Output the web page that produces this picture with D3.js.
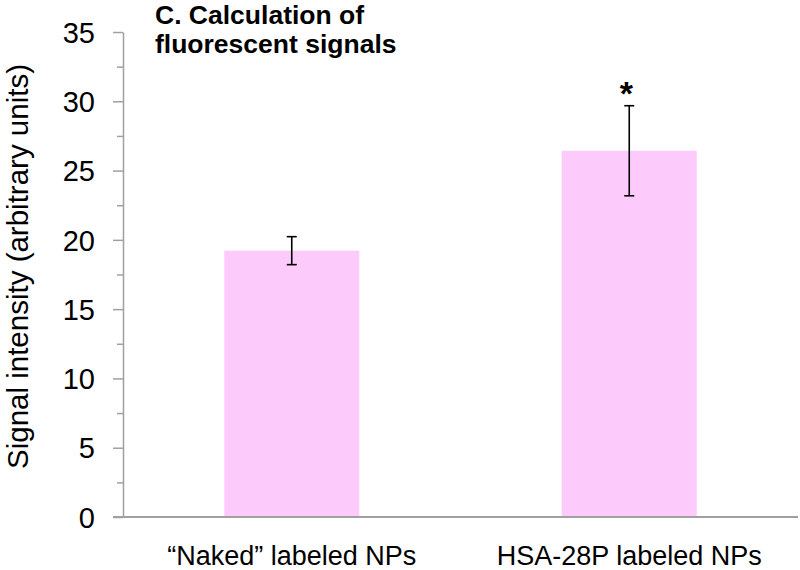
<!DOCTYPE html>
<html>
<head>
<meta charset="utf-8">
<script src="https://cdn.jsdelivr.net/npm/d3@7"></script>
<style>
  html, body { margin: 0; padding: 0; background: #fff; }
  svg { display: block; font-family: "Liberation Sans", Arial, sans-serif; }
</style>
</head>
<body>
<svg id="chart" width="800" height="570"></svg>
<script>
const categories = ["\u201CNaked\u201D labeled NPs", "HSA-28P labeled NPs"];
const values = [19.22, 26.43];
const errors = [1.01, 3.25];
const significance = ["", "*"];
const yTicks = [0, 5, 10, 15, 20, 25, 30, 35];
const yMinorTicks = [2.5, 7.5, 12.5, 17.5, 22.5, 27.5, 32.5];
const titleLines = ["C. Calculation of", "fluorescent signals"];
const yTitle = "Signal intensity (arbitrary units)";

(function () {
const svg = d3.select("#chart");
const mLeft = 123, mRight = 798, mTop = 32, mBottom = 517;
const axisColor = "#a0a0a0";

const x = d3.scaleBand().domain(categories).range([mLeft, mRight]).padding(0);
const y = d3.scaleLinear().domain([0, 35]).range([mBottom, mTop]);
const barW = x.bandwidth() * 0.4;

// bars
svg.append("g").selectAll("rect").data(categories).join("rect")
  .attr("x", (d) => x(d) + (x.bandwidth() - barW) / 2)
  .attr("width", barW)
  .attr("y", (d, i) => y(values[i]))
  .attr("height", (d, i) => y(0) - y(values[i]))
  .attr("fill", "#fccbfc");

// error bars
const eg = svg.append("g").attr("stroke", "#000").attr("stroke-width", 1.6);
categories.forEach((c, i) => {
  const cx = x(c) + x.bandwidth() / 2;
  const hi = y(values[i] + errors[i]), lo = y(values[i] - errors[i]);
  eg.append("line").attr("x1", cx).attr("x2", cx).attr("y1", hi).attr("y2", lo);
  eg.append("line").attr("x1", cx - 5).attr("x2", cx + 5).attr("y1", hi).attr("y2", hi);
  eg.append("line").attr("x1", cx - 5).attr("x2", cx + 5).attr("y1", lo).attr("y2", lo);
  if (significance[i]) {
    svg.append("text").attr("x", cx - 3).attr("y", hi - 1)
      .attr("text-anchor", "middle").attr("font-size", 34).attr("font-weight", "bold")
      .text(significance[i]);
  }
});

// y axis minor ticks
const yMinor = svg.append("g").attr("transform", `translate(${mLeft},0)`)
  .call(d3.axisLeft(y).tickValues(yMinorTicks).tickSize(6).tickFormat(""));
yMinor.select(".domain").remove();
yMinor.selectAll("line").attr("stroke", axisColor).attr("stroke-width", 1.5);

// y axis major
const yAx = svg.append("g").attr("transform", `translate(${mLeft},0)`)
  .call(d3.axisLeft(y).tickValues(yTicks).tickSize(10).tickSizeOuter(0).tickPadding(18));
yAx.select(".domain").attr("stroke", axisColor).attr("stroke-width", 1.5);
yAx.selectAll(".tick line").attr("stroke", axisColor).attr("stroke-width", 1.5);
yAx.selectAll(".tick text").attr("font-size", 29).attr("fill", "#000")
  .attr("font-family", "Liberation Sans, Arial, sans-serif").attr("dy", "0.35em");

// x axis
const xAx = svg.append("g").attr("transform", `translate(0,${mBottom})`)
  .call(d3.axisBottom(x).tickSize(0).tickSizeOuter(0).tickPadding(29));
xAx.select(".domain").attr("stroke", axisColor).attr("stroke-width", 2)
  .attr("d", `M${mLeft - 10},0H${mRight}`);
xAx.selectAll(".tick text").attr("font-size", 27).attr("fill", "#000")
  .attr("font-family", "Liberation Sans, Arial, sans-serif").attr("dy", "0.71em");

// y title
svg.append("text").attr("transform", `translate(28,${(483 + 50) / 2}) rotate(-90)`)
  .attr("text-anchor", "middle").attr("font-size", 29.5).text(yTitle);

// chart title
svg.append("text").attr("x", 155).attr("y", 24).attr("font-size", 26.5).attr("font-weight", "bold")
  .selectAll("tspan").data(titleLines).join("tspan")
  .attr("x", 155).attr("dy", (d, i) => i === 0 ? 0 : 29).text((d) => d);
})();
</script>
</body>
</html>
